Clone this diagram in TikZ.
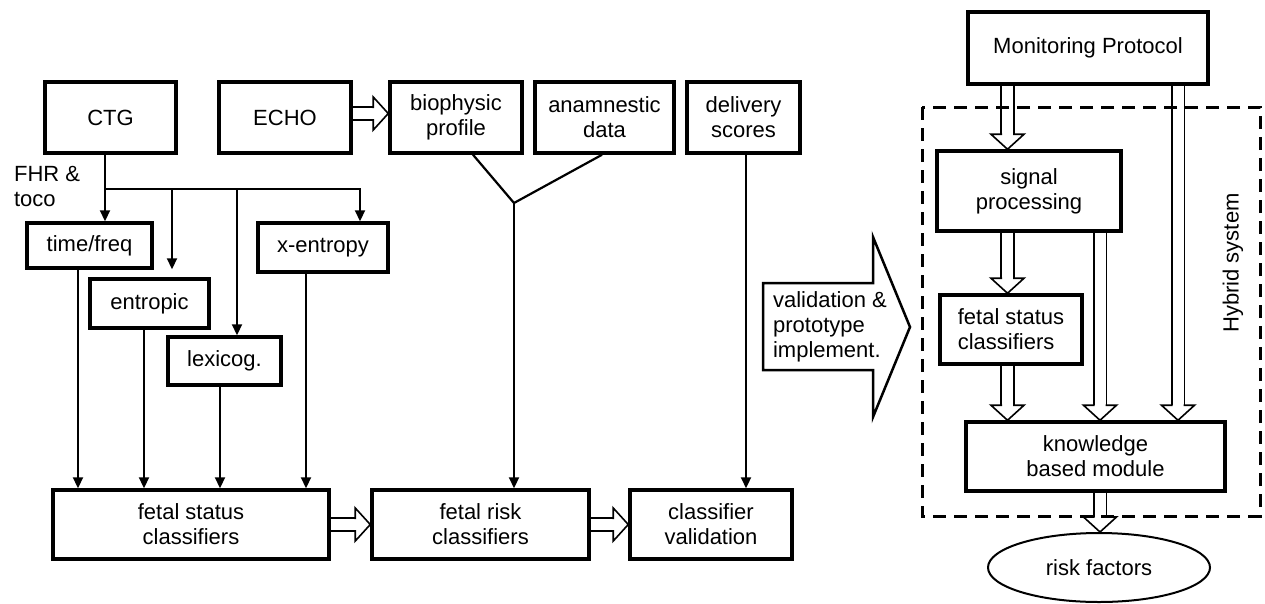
\documentclass[tikz,border=0pt]{standalone}
\usepackage{fontspec}
\setmainfont{Liberation Sans}
\usetikzlibrary{arrows.meta,shapes.geometric,decorations.markings}

\begin{document}
\begin{tikzpicture}[x=1pt, y=-1pt, font=\fontsize{22}{25}\selectfont,
    >={Triangle[length=11pt, width=10pt]}, line width=2.2pt,
    box/.style={draw, line width=3.5pt, inner sep=0pt, align=center},
    dbl/.style={double, double distance=11pt, line width=1.6pt, shorten >=15pt,
      postaction={decorate, decoration={markings, mark=at position 1 with {
        \draw[line width=1.6pt, shorten >=0pt, line join=miter]
          (-15pt,5.5pt) -- (-15pt,16.5pt) -- (0pt,0pt) -- (-15pt,-16.5pt) -- (-15pt,-5.5pt);}}}},
    dashbox/.style={line width=3pt, dash pattern=on 13pt off 8pt}]
    \useasboundingbox (0,0) rectangle (1265,603);

    \node[box, minimum width=131pt, minimum height=71pt] (ctg) at (110.5,117.5) {CTG};
    \node[box, minimum width=132pt, minimum height=71pt] (echo) at (285,117.5) {ECHO};
    \node[box, minimum width=132pt, minimum height=71pt] (bio) at (456,117.5) {biophysic\\profile};
    \node[box, minimum width=139pt, minimum height=71pt] (anam) at (604.5,117.5) {anamnestic\\data};
    \node[box, minimum width=113pt, minimum height=71pt] (del) at (743.5,117.5) {delivery\\scores};

    \node[anchor=west, align=left, inner sep=0pt] (fhr) at (13,186) {FHR \&\\toco};
    \node[box, minimum width=125pt, minimum height=45pt] (tf) at (89.5,245.5) {time/freq};
    \node[box, minimum width=119pt, minimum height=49pt] (ent) at (149.5,303.5) {entropic};
    \node[box, minimum width=113pt, minimum height=48pt] (lex) at (224.5,361) {lexicog.};
    \node[box, minimum width=130pt, minimum height=49pt] (xent) at (323,247.5) {x-entropy};

    \node[box, minimum width=276pt, minimum height=69pt] (fsc) at (191,524.5) {fetal status\\classifiers};
    \node[box, minimum width=217pt, minimum height=69pt] (frc) at (480.5,524.5) {fetal risk\\classifiers};
    \node[box, minimum width=162pt, minimum height=69pt] (cval) at (711,524.5) {classifier\\validation};

    \coordinate (split) at (105,189);
    \coordinate (b1) at (172,189);
    \coordinate (b2) at (237,189);
    \coordinate (join) at (514,203);

    \draw[->] (split |- ctg.south) -- (split |- tf.north);
    \draw[->] (split) -| ([xshift=37pt]xent.north);
    \draw[->, shorten >=8pt] (b1) -- (b1 |- ent.north);
    \draw[->] (b2) -- (b2 |- lex.north);

    \draw[->] ([xshift=-11.5pt]tf.south) coordinate (tfo) -- (tfo |- fsc.north);
    \draw[->] ([xshift=-5.5pt]ent.south) coordinate (ento) -- (ento |- fsc.north);
    \draw[->] ([xshift=-4.5pt]lex.south) coordinate (lexo) -- (lexo |- fsc.north);
    \draw[->] ([xshift=-17pt]xent.south) coordinate (xento) -- (xento |- fsc.north);

    \draw ([xshift=17pt]bio.south) -- (join) -- ([xshift=-2.5pt]anam.south);
    \draw[->] (join) -- (join |- frc.north);
    \draw[->] ([xshift=2.5pt]del.south) coordinate (delo) -- (delo |- cval.north);

    \draw[dbl] ([yshift=4pt]echo.east) -- ([yshift=4pt]bio.west);
    \draw[dbl] (fsc.east) -- (frc.west);
    \draw[dbl] (frc.east) -- (cval.west);

    \draw[line width=2.5pt] (763,283) -- (873,283) -- (873,237) -- (910,327)
      -- (873,417) -- (873,370) -- (763,370) -- cycle;
    \node[anchor=west, align=left, inner sep=0pt] (impl) at (772,327) {validation \&\\prototype\\implement.};

    \node[box, minimum width=240pt, minimum height=72pt] (mp) at (1088,48) {Monitoring Protocol};
    \node[box, minimum width=184pt, minimum height=80pt] (sigp) at (1029,191) {signal\\processing};
    \node[box, align=left, minimum width=142pt, minimum height=69pt] (fscr) at (1011,329.5) {fetal status\\classifiers};
    \node[box, minimum width=259pt, minimum height=69pt] (kbm) at (1095.5,456.5) {knowledge\\based module};
    \node[draw, ellipse, line width=2pt, inner sep=0pt, minimum width=222pt, minimum height=69pt] (risk) at (1099,567.5) {risk factors};
    \node[rotate=90] (hyb) at (1233,263) {Hybrid system};

    \coordinate (c1) at (1007.5,0);
    \coordinate (c2) at (1100,0);
    \coordinate (c3) at (1178,0);

    \draw[dbl] (mp.south -| c1) -- (c1 |- sigp.north);
    \draw[dbl] (sigp.south -| c1) -- (c1 |- fscr.north);
    \draw[dbl] (fscr.south -| c1) -- (c1 |- kbm.north);
    \draw[dbl] (sigp.south -| c2) -- (c2 |- kbm.north);
    \draw[dbl] (mp.south -| c3) -- (c3 |- kbm.north);
    \draw[dbl] (kbm.south -| c2) -- (c2 |- risk.north);

    \draw[dashbox] (922,107) rectangle (1260,516);
\end{tikzpicture}
\end{document}
